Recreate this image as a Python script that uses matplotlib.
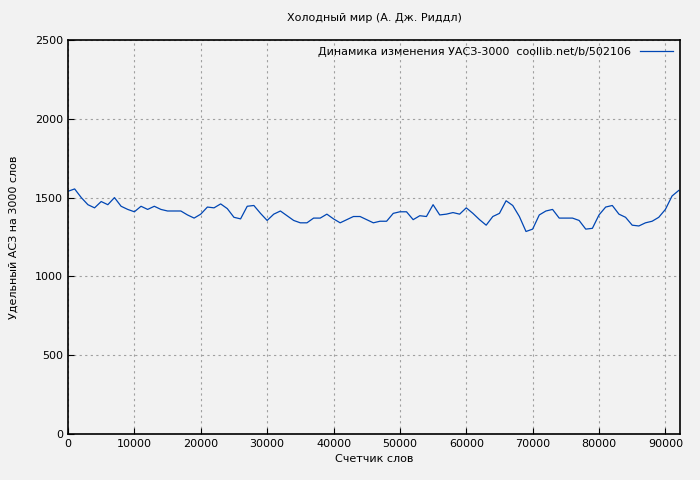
import matplotlib
matplotlib.use('Agg')
import matplotlib.pyplot as plt

# word count positions (every 1000 words) and ratio values
words = list(range(0, 93000, 1000))
ratio = [1540, 1555, 1500, 1455, 1435, 1475, 1455, 1500, 1445, 1425,
         1410, 1445, 1425, 1445, 1425, 1415, 1415, 1415, 1390, 1370,
         1395, 1440, 1435, 1460, 1430, 1375, 1365, 1445, 1450, 1400,
         1355, 1395, 1415, 1385, 1355, 1340, 1340, 1370, 1370, 1395,
         1365, 1340, 1360, 1380, 1380, 1360, 1340, 1350, 1350, 1400,
         1410, 1410, 1360, 1385, 1380, 1455, 1390, 1395, 1405, 1395,
         1435, 1400, 1360, 1325, 1380, 1400, 1480, 1450, 1380, 1285,
         1300, 1390, 1415, 1425, 1370, 1370, 1370, 1355, 1300, 1305,
         1390, 1440, 1450, 1395, 1375, 1325, 1320, 1340, 1350, 1375,
         1425, 1510, 1545]

fig = plt.figure(figsize=(7, 4.8), dpi=100, facecolor='#f2f2f2')
ax = fig.add_axes([68 / 700, 46 / 480, 612 / 700, 394 / 480], facecolor='#f2f2f2')

ax.plot(words, ratio, color='#0046b4', lw=0.9,
        label='Динамика изменения УАСЗ-3000  coollib.net/b/502106')

ax.set_xlim(0, 92200)
ax.set_ylim(0, 2500)
ax.set_xticks(range(0, 90001, 10000))
ax.set_yticks(range(0, 2501, 500))
ax.grid(True, color='#a0a0a0', linestyle=(0, (2, 3)), lw=0.8)
ax.tick_params(labelsize=8, direction='in', length=4)
for s in ax.spines.values():
    s.set_linewidth(1.2)

ax.set_title('Холодный мир (А. Дж. Риддл)', fontsize=8, pad=14)
ax.set_xlabel('Счетчик слов', fontsize=8)
ax.set_ylabel('Удельный АСЗ на 3000 слов', fontsize=8, labelpad=12)

leg = ax.legend(loc='upper right', fontsize=8, frameon=False, markerfirst=False,
                handlelength=3, borderaxespad=0.2)

fig.savefig('out.png', dpi=100, facecolor=fig.get_facecolor())
